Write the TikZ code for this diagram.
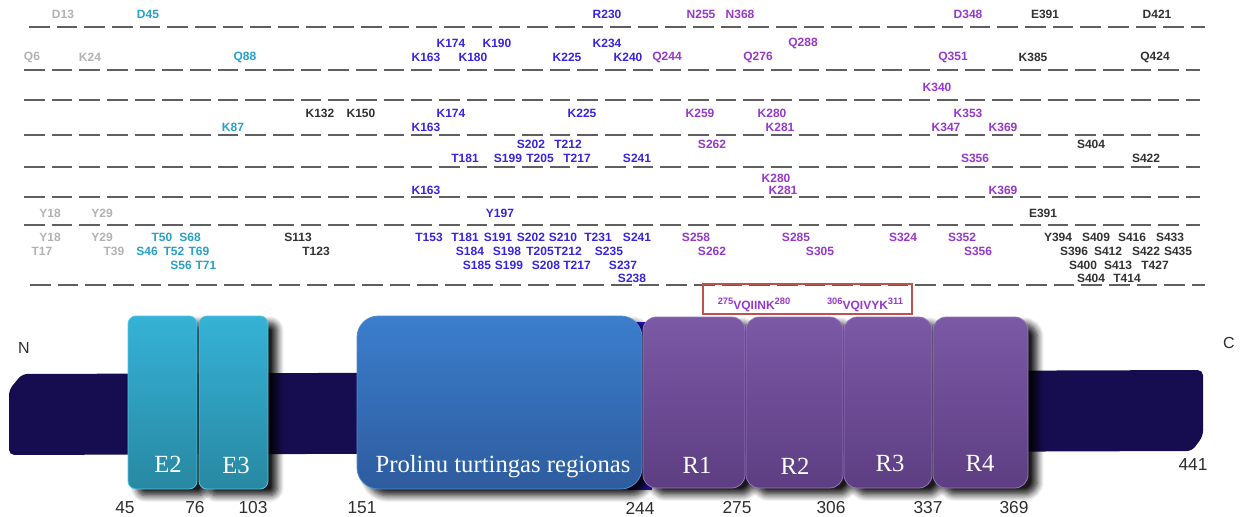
\documentclass[tikz,border=0pt]{standalone}
\usepackage{fontspec}
\setmainfont{Liberation Serif}
\setsansfont{Liberation Sans}
\usetikzlibrary{fit,shadows.blur}
\definecolor{siteLG}{RGB}{178,178,178}
\definecolor{siteC}{RGB}{40,160,200}
\definecolor{siteD}{RGB}{50,50,50}
\definecolor{siteB}{RGB}{55,35,225}
\definecolor{siteP}{RGB}{150,55,205}
\definecolor{trackgray}{RGB}{95,95,95}
\definecolor{barnavy}{RGB}{22,13,80}
\definecolor{glowblue}{RGB}{40,25,215}
\definecolor{cyanT}{RGB}{53,178,214}
\definecolor{cyanB}{RGB}{40,136,162}
\definecolor{cyanE}{RGB}{85,195,225}
\definecolor{proT}{RGB}{59,126,205}
\definecolor{proB}{RGB}{46,92,158}
\definecolor{proE}{RGB}{80,140,210}
\definecolor{purT}{RGB}{123,89,165}
\definecolor{purB}{RGB}{93,62,130}
\definecolor{purE}{RGB}{150,120,190}
\definecolor{redbox}{RGB}{192,80,77}
\definecolor{numgray}{RGB}{45,45,45}
\newcommand{\resno}[1]{\raisebox{3.6pt}{\fontsize{7}{8}\selectfont #1}}
\begin{document}
\begin{tikzpicture}[x=0.75pt,y=-0.75pt,
  site/.style={font=\sffamily\bfseries\fontsize{9}{10}\selectfont,inner sep=0pt},
  num/.style={font=\sffamily\fontsize{13}{14}\selectfont,text=numgray,inner sep=0pt},
  dom/.style={font=\fontsize{18.5}{20}\selectfont,text=white,anchor=base,inner sep=0pt},
  track/.style={draw=trackgray,line width=1.8pt,dash pattern=on 15.5pt off 5.25pt},
  shade/.style={blur shadow={shadow xshift=7pt,shadow yshift=-5pt,shadow blur radius=5pt,shadow blur steps=8,shadow opacity=90}},
  ebox/.style={shade,inner sep=0pt,rounded corners=6pt,top color=cyanT,bottom color=cyanB,draw=cyanE,line width=0.6pt},
  pbox/.style={shade,inner sep=0pt,rounded corners=16pt,top color=proT,bottom color=proB,draw=proE,line width=0.6pt},
  rbox/.style={shade,inner sep=0pt,rounded corners=10pt,top color=purT,bottom color=purB,draw=purE,line width=0.6pt}]
  \useasboundingbox (0,0) rectangle (1245,517);
  \draw[track] (29,27) -- (1205,27);
  \foreach \y in {70,100,135,167,197,225}
    \draw[track] (24,\y) -- (1200,\y);
  \draw[track] (30,285) -- (1205,285);
  \foreach \x/\y/\s [count=\i] in {63/14/D13,32/57/Q6,90/57/K24,50/213/Y18,102/213/Y29,
      50/237/Y18,102/237/Y29,42/251/T17,114/251/T39}
    \node[site,text=siteLG] (g\i) at (\x,\y) {\s};
  \foreach \x/\y/\s [count=\i] in {148/14/D45,245/57/Q88,233/127/K87,162/237/T50,190/237/S68,
      147/251/S46,174/251/T52,199/251/T69,181/265/S56,206/265/T71}
    \node[site,text=siteC] (c\i) at (\x,\y) {\s};
  \foreach \x/\y/\s [count=\i] in {320/113/K132,361/113/K150,298/237/S113,316/251/T123,
      1045/14/E391,1157/14/D421,1033/57/K385,1155/57/Q424,1091/144/S404,1146/158/S422,
      1043/213/E391,1058/237/Y394,1096/237/S409,1132/237/S416,1170/237/S433,
      1074/251/S396,1108/251/S412,1146/251/S422,1178/251/S435,
      1083/265/S400,1118/265/S413,1155/265/T427,1091/278/S404,1127/278/T414}
    \node[site,text=siteD] (d\i) at (\x,\y) {\s};
  \foreach \x/\y/\s [count=\i] in {607/14/R230,451/43/K174,497/43/K190,607/43/K234,
      426/57/K163,473/57/K180,567/57/K225,628/57/K240,451/113/K174,582/113/K225,426/127/K163,
      531/144/S202,568/144/T212,465/158/T181,508/158/S199,540/158/T205,577/158/T217,637/158/S241,
      426/190/K163,500/213/Y197,429/237/T153,465/237/T181,498/237/S191,531/237/S202,
      563/237/S210,598/237/T231,637/237/S241,470/251/S184,507/251/S198,540/251/T205,
      568/251/T212,609/251/S235,477/265/S185,509/265/S199,546/265/S208,577/265/T217,
      623/265/S237,632/278/S238}
    \node[site,text=siteB] (b\i) at (\x,\y) {\s};
  \foreach \x/\y/\s [count=\i] in {701/14/N255,740/14/N368,968/14/D348,803/43/Q288,
      667/57/Q244,758/57/Q276,953/57/Q351,937/87/K340,700/113/K259,772/113/K280,968/113/K353,
      780/127/K281,946/127/K347,1003/127/K369,712/144/S262,975/158/S356,776/178/K280,
      783/190/K281,1003/190/K369,696/237/S258,796/237/S285,903/237/S324,962/237/S352,
      820/251/S305,978/251/S356,712/251/S262}
    \node[site,text=siteP] (p\i) at (\x,\y) {\s};
  \node[draw=redbox,line width=2pt,inner sep=0pt,fit={(703,284) (912,314)}] (pepbox) {};
  \node[site,text=siteP,anchor=base] (pep1) at (754,309) {\resno{275}VQIINK\resno{280}};
  \node[site,text=siteP,anchor=base] (pep2) at (865,309) {\resno{306}VQIVYK\resno{311}};
  \fill[barnavy,rounded corners=4pt] (9,390) -- (22,374) -- (1203,370) -- (1203,436)
    -- (1192,451) -- (9,455) -- cycle;
  \fill[glowblue] (628,322) rectangle (652,490);
  \node[ebox,fit={(128,316) (197,489)}] (E2) {};
  \node[ebox,fit={(199,316) (268,489)}] (E3) {};
  \node[pbox,fit={(357,316) (642,489)}] (pro) {};
  \foreach \a/\b/\n in {643/745/R1,746/843/R2,844/932/R3,933/1028/R4}
    \node[rbox,fit={(\a,317) (\b,488)}] (\n) {};
  \node[dom] (tE2) at (168,472) {E2};
  \node[dom] (tE3) at (236,473) {E3};
  \node[dom] (tpro) at (503,472) {Prolinu turtingas regionas};
  \foreach \x/\y/\n in {697/473/R1,795/474/R2,890/471/R3,980/471/R4}
    \node[dom] (t\n) at (\x,\y) {\n};
  \foreach \x/\n in {125/45,195/76,253/103,362/151,640/244,737/275,831/306,928/337,1014/369}
    \node[num] (n\n) at (\x,508) {\n};
  \node[num] (n441) at (1193,465) {441};
  \node[num,font=\sffamily\fontsize{12}{13}\selectfont] (Nend) at (24,348) {N};
  \node[num,font=\sffamily\fontsize{12}{13}\selectfont] (Cend) at (1229,343) {C};
\end{tikzpicture}
\end{document}
